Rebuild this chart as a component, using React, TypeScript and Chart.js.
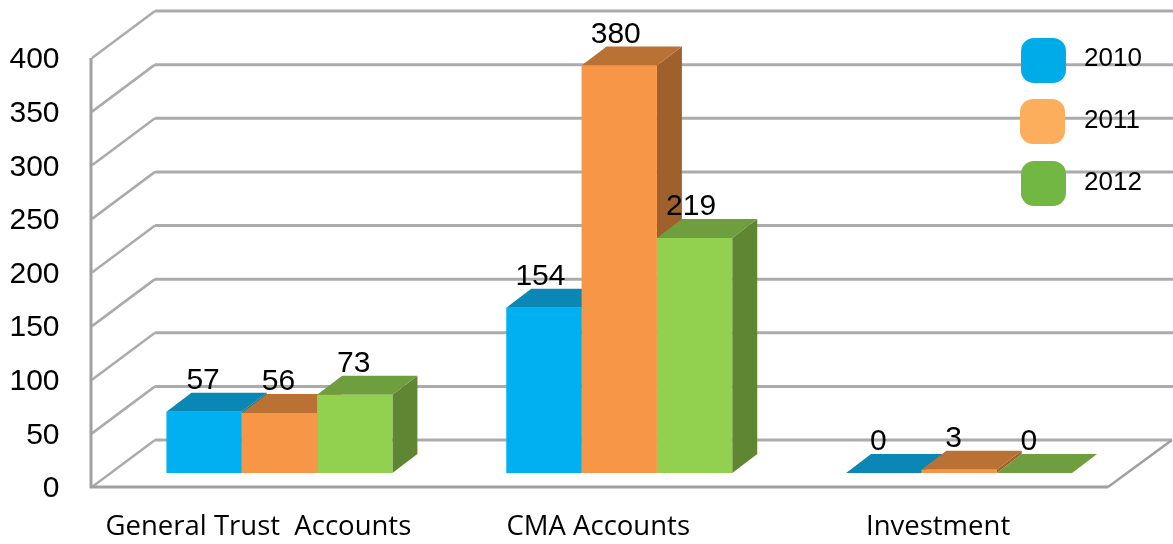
import React, { useEffect, useRef } from "react";
import { Chart, registerables } from "chart.js";

Chart.register(...registerables);

const categories = ["General Trust  Accounts", "CMA Accounts", "Investment"];
const seriesNames = ["2010", "2011", "2012"];
const values2010 = [57, 154, 0];
const values2011 = [56, 380, 3];
const values2012 = [73, 219, 0];

const frontColors = ["#00B0F0", "#F79646", "#92D050"];
const topColors = ["#0A87B5", "#B97234", "#6F9E3E"];
const sideColors = ["#07789F", "#A0602C", "#5F8633"];
const legendColors = ["#00ACE8", "#FCAE5C", "#72B644"];
const labelShift = [-1, -3.5, -5.5];

const FONT_NUM = '30px "Liberation Sans", Arial, sans-serif';
const FONT_LEGEND = '26px "Liberation Sans", Arial, sans-serif';

const bar3d = {
  id: "bar3d",
  beforeDatasetsDraw(chart: any) {
    const { ctx, scales } = chart;
    const y = scales.y;
    const frontLeft = 92;
    const frontRight = 1108;
    const wallDx = 63;
    const axisDrop = 14;
    ctx.save();
    ctx.lineCap = "butt";
    y.ticks.forEach((t: any) => {
      const fy = y.getPixelForValue(t.value) + axisDrop;
      const by = fy - 47;
      ctx.strokeStyle = "#ABABAB";
      ctx.lineWidth = 3;
      ctx.beginPath();
      ctx.moveTo(frontLeft + wallDx, by);
      ctx.lineTo(t.value === 0 ? frontRight + wallDx + 1 : chart.width, by);
      ctx.stroke();
      ctx.lineWidth = 2.5;
      ctx.beginPath();
      ctx.moveTo(frontLeft, fy);
      ctx.lineTo(frontLeft + wallDx, by);
      ctx.stroke();
    });
    const y0 = y.getPixelForValue(0) + axisDrop;
    const yTop = y.getPixelForValue(400) + axisDrop;
    ctx.strokeStyle = "#A0A0A0";
    ctx.lineWidth = 3;
    ctx.beginPath();
    ctx.moveTo(frontLeft - 1, yTop);
    ctx.lineTo(frontLeft - 1, y0);
    ctx.lineTo(frontRight, y0);
    ctx.stroke();
    ctx.lineWidth = 2.5;
    ctx.beginPath();
    ctx.moveTo(frontRight, y0);
    ctx.lineTo(frontRight + wallDx + 1, y0 - 47);
    ctx.stroke();

    // Depth faces of every bar, behind the fronts Chart.js draws next.
    const dx = 25;
    const dy = 19;
    chart.data.datasets.forEach((_: any, di: number) => {
      chart.getDatasetMeta(di).data.forEach((el: any) => {
        const l = el.x - el.width / 2;
        const r = el.x + el.width / 2;
        const top = el.y;
        const base = el.base;
        ctx.fillStyle = sideColors[di];
        ctx.beginPath();
        ctx.moveTo(r, top);
        ctx.lineTo(r + dx, top - dy);
        ctx.lineTo(r + dx, base - dy);
        ctx.lineTo(r, base);
        ctx.closePath();
        ctx.fill();
        ctx.fillStyle = topColors[di];
        ctx.beginPath();
        ctx.moveTo(l, top);
        ctx.lineTo(l + dx, top - dy);
        ctx.lineTo(r + dx, top - dy);
        ctx.lineTo(r, top);
        ctx.closePath();
        ctx.fill();
      });
    });
    ctx.restore();
  },
  afterDatasetsDraw(chart: any) {
    const { ctx } = chart;
    ctx.save();
    ctx.fillStyle = "#000";
    ctx.font = FONT_NUM;
    ctx.textAlign = "center";
    ctx.textBaseline = "middle";
    chart.data.datasets.forEach((ds: any, di: number) => {
      chart.getDatasetMeta(di).data.forEach((el: any, i: number) => {
        ctx.fillText(String(ds.data[i]), el.x + labelShift[i], el.y - 31);
      });
    });
    // Legend
    const keyX = [1021, 1020, 1021];
    const keyY = [38, 99, 161];
    const textY = [59, 121, 183];
    seriesNames.forEach((name, i) => {
      ctx.fillStyle = legendColors[i];
      ctx.beginPath();
      ctx.roundRect(keyX[i], keyY[i], 45, 45, 13);
      ctx.fill();
      ctx.fillStyle = "#000";
      ctx.font = FONT_LEGEND;
      ctx.textAlign = "left";
      ctx.fillText(name, 1084, textY[i]);
    });
    ctx.restore();
  },
};

const noPadding = (s: any) => {
  s.paddingTop = 0;
  s.paddingBottom = 0;
  s.paddingLeft = 0;
  s.paddingRight = 0;
};

export default function App() {
  const ref = useRef<HTMLCanvasElement>(null);
  useEffect(() => {
    const chart = new Chart(ref.current as HTMLCanvasElement, {
      type: "bar",
      data: {
        labels: categories,
        datasets: [values2010, values2011, values2012].map((d, i) => ({
          label: seriesNames[i],
          data: d,
          backgroundColor: frontColors[i],
          borderWidth: 0,
          barPercentage: 1,
          categoryPercentage: 0.665,
        })),
      },
      options: {
        responsive: false,
        animation: false,
        layout: { padding: { top: 44, right: 44, left: 0, bottom: 0 } },
        plugins: { legend: { display: false }, tooltip: { enabled: false } },
        scales: {
          x: {
            grid: { display: false, drawTicks: false },
            border: { display: false },
            afterFit: (s: any) => {
              s.height = 71;
              noPadding(s);
            },
            ticks: {
              autoSkip: false,
              maxRotation: 0,
              padding: 38,
              labelOffset: -21,
              color: "#000",
              font: { family: "Open Sans", size: 27.5 },
            },
          },
          y: {
            min: 0,
            max: 400,
            grid: { display: false, drawTicks: false },
            border: { display: false },
            afterFit: (s: any) => {
              s.width = 109.5;
              noPadding(s);
            },
            ticks: {
              stepSize: 50,
              padding: 50,
              labelOffset: 16,
              color: "#000",
              font: { family: "Liberation Sans", size: 30 },
            },
          },
        },
      },
      plugins: [bar3d],
    } as any);
    return () => chart.destroy();
  }, []);
  return (
    <div style={{ position: "fixed", left: 0, top: 0, width: 1173, height: 544, background: "#fff" }}>
      <canvas ref={ref} width={1173} height={544} style={{ display: "block" }} />
    </div>
  );
}
